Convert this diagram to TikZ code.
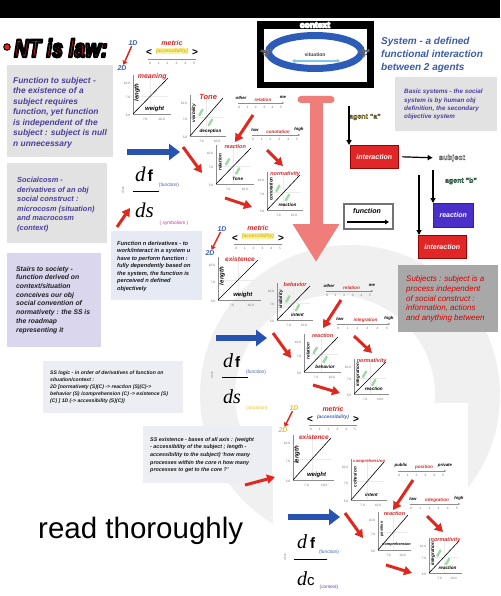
\documentclass[tikz,border=0pt]{standalone}
\usepackage{fontspec}
\usepackage{graphicx}
\setmainfont{Liberation Sans}
\newfontfamily\serifit{Liberation Serif}
\usetikzlibrary{arrows.meta,shapes.geometric}
\definecolor{purp}{HTML}{4B3F9E}
\definecolor{tred}{HTML}{D42A2A}
\definecolor{ared}{HTML}{E0281E}
\definecolor{ablue}{HTML}{2752B0}
\definecolor{sysblue}{HTML}{3D5CA3}
\definecolor{boxgrey}{HTML}{E2E2E2}
\definecolor{lav}{HTML}{DAD6EE}
\definecolor{lblue}{HTML}{E5EAF5}
\definecolor{lgrey}{HTML}{ECEEF3}
\definecolor{subjgrey}{HTML}{A8A8A8}
\definecolor{salmon}{HTML}{EF7E7A}
\definecolor{ringblue}{HTML}{2D5BB8}
\definecolor{hly}{HTML}{F7F39A}
\definecolor{accy}{HTML}{D9B520}
\definecolor{dblue}{HTML}{3A62B4}
\definecolor{dyel}{HTML}{E6C62E}
\definecolor{gmk}{HTML}{9ED9A6}
\definecolor{interred}{HTML}{E02626}
\definecolor{reactblue}{HTML}{4A30C8}
\definecolor{olivet}{HTML}{D2BC4E}
\definecolor{agbgreen}{HTML}{3FA06A}
\definecolor{symmag}{HTML}{C03A96}
\definecolor{sitblue}{HTML}{7FC8E0}
\definecolor{ctxpurp}{HTML}{6A4AB0}
\definecolor{ntred}{HTML}{E8201E}
\newcommand\fsz[2]{\fontsize{#1}{#2}\selectfont}
% outlined text: #1 stroke width, #2 stroke grey level, #3 fill colour, #4 text
\newcommand\outl[4]{{\color{#3}\special{pdf:literal direct 2 Tr #1 w #2 G 1 j}#4\special{pdf:literal direct 0 Tr}}}
\tikzset{
 tk/.style={font=\fsz{3.2}{3.5}, text=black!55, inner sep=0},
 ctitle/.style={font=\fsz{5.5}{6}\bfseries\itshape, text=tred, inner sep=0},
 clab/.style={font=\fsz{4.6}{5}\bfseries\itshape, inner sep=0},
 slab/.style={font=\fsz{4.3}{5}\bfseries\itshape, inner sep=0},
 caxis/.style={draw=black!45, line width=0.4pt},
 cgrid/.style={draw=black!8, line width=0.3pt},
 cdiag/.style={draw=black, line width=0.6pt},
 gmark/.style={fill=gmk, rounded corners=0.8pt, minimum width=8pt, minimum height=2.4pt, inner sep=0},
 bigchart/.style={clab/.append style={font=\fsz{6}{6}\bfseries\itshape}, ctitle/.append style={font=\fsz{6.5}{7}\bfseries\itshape}},
 redarr/.style={draw=ared, line width=3pt, -{Triangle[length=8pt,width=9pt]}},
 smallred/.style={draw=ared, line width=1.5pt, -{Triangle[length=4pt,width=5pt]}},
 bluearr/.style={draw=ablue, line width=6pt, -{Triangle[length=11pt,width=16pt]}},
 blk/.style={draw=black, line width=1.2pt, -{Triangle[length=5pt,width=5pt]}},
 gbox/.style={anchor=north west, inner sep=0},
 btext/.style={anchor=north west, inner sep=0, align=left},
 dimlab/.style={font=\fsz{7}{7}\bfseries\itshape, inner sep=0.5pt},
 flowbox/.style={font=\fsz{7}{7}\bfseries\itshape, text=white, minimum width=48pt, minimum height=23pt, inner sep=0},
 dnum/.style={anchor=base west, inner sep=0},
 fnote/.style={font=\fsz{4.8}{5}, inner sep=0},
 tinyrot/.style={font=\fsz{3}{3.2}, text=black!50, rotate=90, inner sep=0},
 pics/chart/.style n args={5}{code={
  \draw[cgrid] ({0.5*#1},0) -- ({0.5*#1},-#2) (0,{-0.5*#2}) -- (#1,{-0.5*#2});
  \draw[caxis] (0,{-#2-3}) -- (0,0) -- ({#1+3},0);
  \draw[cdiag] (0,0) -- (#1,-#2);
  \node[tk] at (-6,{-#2+5}) {10.0};
  \node[tk] at (-5,{-0.45*#2}) {7.0};
  \node[tk] at (-5,1) {5.0};
  \node[tk] at ({0.35*#1},5) {7.0};
  \node[tk] at ({0.82*#1},5) {10.0};
  \node[ctitle] at ({0.55*#1},{-#2-1}) {#3};
  \node[clab, rotate=90] at (4,{-0.6*#2}) {#4};
  \node[clab] at ({0.62*#1},-5) {#5};
 }},
 pics/greens/.style n args={2}{code={
  \node[gmark, rotate=60] at ({0.33*#1},{-0.62*#2}) {};
  \node[gmark, rotate=60] at ({0.62*#1},{-0.36*#2}) {};
 }},
 pics/scl/.style n args={4}{code={
  \draw[caxis, -{Stealth[length=2pt,width=2pt]}] (0,0) -- (#1,0);
  \foreach \k in {0,...,5}{
    \draw[caxis] ({1+\k*(#1-4)/5},0) -- ({1+\k*(#1-4)/5},1.2);
    \node[tk] at ({1+\k*(#1-4)/5},4.5) {\k};}
  \node[slab] at (3,-5.5) {#2};
  \node[ctitle, font=\fsz{4.6}{5}\bfseries\itshape] at ({#1/2+2},-3.5) {#3};
  \node[slab] at ({#1-1},-5.5) {#4};
 }},
 pics/metric/.style={code={
  \node[font=\fsz{7}{8}\bfseries\itshape, text=tred, inner sep=0] at (0,0) {metric};
  \node[font=\fsz{4.8}{5}\bfseries\itshape, inner sep=0.6pt, #1] at (0,8) {(accessibility)};
  \node[font=\fsz{10}{10}\bfseries, inner sep=0] at (-23,10) {<};
  \node[font=\fsz{10}{10}\bfseries, inner sep=0] at (23,10) {>};
  \draw[caxis] (-24,16) -- (24,16);
  \foreach \k in {0,...,5} \node[tk] at ({-22+\k*8.8},20) {\k};
 }}
}
\begin{document}
\begin{tikzpicture}[x=1pt,y=-1pt]
\useasboundingbox (0,0) rectangle (500,596);
\fill[white] (0,0) rectangle (500,596);
% faint watermark ring
\fill[black!6, even odd rule] (350,395) circle (150) (335,395) circle (100);
\fill[white] (273,403) rectangle (468,596);
% top band
\fill[black] (0,0) rectangle (500,18);

% ---- title
\node (bul) [circle, fill=ntred, draw=black, line width=1pt, minimum size=6.5pt, inner sep=0] at (7,47) {};
\node (nt) [anchor=west, font=\fsz{25}{25}\bfseries\itshape, inner sep=0] at (14,48) {\scalebox{0.8}[1]{\outl{2.4}{0}{ntred}{NT is law:}}};

% ---- left text boxes
\node (b1) [gbox, fill=boxgrey, minimum width=106pt, minimum height=92pt] at (7,65) {};
\node (b1t) [btext, text=purp, font=\fsz{8.4}{10.5}\bfseries\itshape] at (13,77) {Function to subject -\\the existence of a\\subject requires\\function, yet function\\is independent of the\\subject : subject is null\\n unnecessary};
\node (b2) [gbox, fill=boxgrey, minimum width=100pt, minimum height=80pt] at (7,163) {};
\node (b2t) [btext, text=purp, font=\fsz{7.4}{9.6}\bfseries\itshape] at (17,177) {Socialcosm -\\derivatives of an obj\\social construct :\\microcosm (situation)\\and macrocosm\\(context)};
\node (b3) [gbox, fill=lav, minimum width=94pt, minimum height=94pt] at (7,253) {};
\node (b3t) [btext, text=black!88, font=\fsz{6.8}{8.7}\bfseries\itshape] at (16,266) {Stairs to society -\\function derived on\\context/situation\\conceives our obj\\social convention of\\normativety : the SS is\\the roadmap\\representing it};
\node (b4) [gbox, fill=lblue, minimum width=91pt, minimum height=69pt] at (111,231) {};
\node (b4t) [btext, text=black!90, font=\fsz{5.7}{7.5}\bfseries\itshape] at (117,241) {Function n derivatives - to\\work/interact in a system u\\have to perform function :\\fully dependently based on\\the system, the function is\\perceived n defined\\objectively};
\node (b5) [gbox, fill=lgrey, minimum width=140pt, minimum height=52pt] at (43,361) {};
\node (b5t) [btext, text=black!90, font=\fsz{5.1}{7}\bfseries\itshape] at (50,371) {SS logic - in order of derivatives of function on\\situation/context :\\2D [normativety (S)(C) -> reaction (S)(C)->\\behavior (S) /comprehension (C) -> existence (S)\\(C) ] 1D (-> accessibility (S)(C))};
\node (b6) [gbox, fill=lgrey, minimum width=129pt, minimum height=57pt] at (143,426) {};
\node (b6t) [btext, text=black!90, font=\fsz{5.4}{7.7}\bfseries\itshape] at (150,437) {SS existence - bases of all axis : (weight\\- accessibility of the subject ; length -\\accessibility to the subject) `how many\\processes within the core n how many\\processes to get to the core ?'};
\node (rt) [anchor=base west, inner sep=0, font=\fsz{29.5}{30}] at (38,538) {read thoroughly};

% ---- context figure
\node (ctx) [gbox, fill=black, minimum width=117pt, minimum height=67pt] at (257,21) {};
\node (ctxin) [gbox, fill=white, minimum width=103pt, minimum height=53pt] at (264,29) {};
\node (ring) [ellipse, draw=ringblue, line width=7pt, minimum width=93pt, minimum height=33pt, inner sep=0] at (315,52) {};
\node (ctxl) [font=\fsz{8.5}{9}\bfseries, inner sep=0] at (315,25) {\outl{1.1}{1}{black}{context}};
\node (ag1) [font=\fsz{4}{4.5}\bfseries, align=center, inner sep=0] at (266,53) {\outl{0.3}{0.35}{white}{agent}\\\outl{0.3}{0.35}{white}{"a"}};
\node (ag2) [font=\fsz{4}{4.5}\bfseries, align=center, inner sep=0] at (364,53) {\outl{0.3}{0.35}{white}{agent}\\\outl{0.3}{0.35}{white}{"b"}};
\node (sit) [font=\fsz{5}{5}\bfseries, text=black!75, inner sep=0] at (315,55) {situation};
\coordinate (s0) at (292,61); \coordinate (s1) at (340,61);
\draw[draw=sitblue, line width=1.2pt, {Triangle[length=3pt,width=4pt]}-{Triangle[length=3pt,width=4pt]}] (s0) -- (s1);

\node (sys) [btext, text=sysblue, font=\fsz{10}{13}\bfseries\itshape] at (381,37) {System - a defined\\functional interaction\\between 2 agents};
\node (b7) [gbox, fill=boxgrey, minimum width=102pt, minimum height=54pt] at (395,77) {};
\node (b7t) [btext, text=purp, font=\fsz{6.3}{8.3}\bfseries\itshape] at (404,89) {Basic systems - the social\\system is by human obj\\definition, the secondary\\objective system};

% ---- big T arrow
\node (tbar) [fill=salmon, rounded corners=3.5pt, minimum width=37pt, minimum height=7pt, inner sep=0] at (316,99.5) {};
\coordinate (ttip) at (316,262);
\draw[draw=salmon, line width=13pt, -{Triangle[length=38pt,width=44pt]}] (tbar.center) -- (ttip);

% ---- right flow
\node (agenta) [font=\fsz{7}{7}\bfseries, inner sep=0] at (365,117) {\outl{0.2}{0.2}{olivet}{agent "a"}};
\node (inter1) [flowbox, fill=interred, draw=red!60!black, anchor=north west] at (350,145) {interaction};
\coordinate (a0) at (349,106);
\draw[blk] (a0) -- (a0 |- inter1.north);
\node (subj) [font=\fsz{7.5}{8}\bfseries, inner sep=0] at (452,158) {\outl{0.45}{0.4}{white}{subject}};
\draw[blk, shorten <=4pt, shorten >=6pt] (inter1.east) -- (subj.west);
\node (agentb) [font=\fsz{7}{7}\bfseries, inner sep=0] at (461,181) {\outl{0.2}{0.2}{agbgreen}{agent "b"}};
\node (react) [flowbox, fill=reactblue, draw=reactblue!70!black, minimum width=40pt, minimum height=24pt, anchor=north west] at (433,203) {reaction};
\node (inter2) [flowbox, fill=interred, draw=red!60!black, anchor=north west] at (418,235) {interaction};
\coordinate (b0) at (433,170);
\draw[blk] (b0) -- (b0 |- react.north);
\coordinate (c0) at (419,175);
\draw[blk] (c0) -- (c0 |- inter2.north);
\node (func) [gbox, draw=black!55, line width=1.6pt, minimum width=49pt, minimum height=25pt] at (343,203) {};
\node (funct) [font=\fsz{7}{7}\itshape\bfseries, inner sep=0] at (367,211) {function};
\coordinate (f0) at (347,222); \coordinate (f1) at (389,222);
\draw[draw=black, line width=1.6pt, -{Triangle[length=4pt,width=4.5pt]}] (f0) -- (f1);

\node (b8) [gbox, fill=subjgrey, minimum width=100pt, minimum height=67pt] at (398,265) {};
\node (b8t) [btext, text=red!85!black, font=\fsz{8}{9.6}\itshape] at (406,276) {Subjects : subject is a\\process independent\\of social construct :\\information, actions\\and anything between};

% =============== cluster 1
\node (c1a) [dimlab, text=dblue] at (133,43) {1D};
\node (c1b) [dimlab, text=dblue] at (122,68) {2D};
\draw[smallred] (c1a) -- (c1b);
\pic (c1met) at (172,43) {metric={fill=hly,text=accy}};
\pic[bigchart, ctitle/.append style={font=\fsz{7}{7}\bfseries\itshape}] (c1m) at (133,114) {chart={35}{36}{meaning}{length}{weight}};
\pic[ctitle/.append style={font=\fsz{7.5}{8}\bfseries\itshape}] (c1t) at (190,136) {chart={33}{38}{Tone}{visibility}{deception}};
\pic at (190,136) {greens={33}{38}};
\pic (c1rs) at (238,103) {scl={46}{other}{relation}{me}};
\pic (c1cs) at (252,135) {scl={48}{low}{conotation}{high}};
\pic (c1r) at (216,184) {chart={35}{36}{reaction}{relation}{Tone}};
\pic at (216,184) {greens={35}{36}};
\pic (c1n) at (267,210) {chart={33}{35}{normativity}{conotation}{reaction}};
\pic at (267,210) {greens={33}{35}};
\coordinate (r1s) at (253,115); \coordinate (r1e) at (235,142);
\coordinate (r2s) at (183,147); \coordinate (r2e) at (202,173);
\coordinate (r3s) at (267,150); \coordinate (r3e) at (283,166);
\coordinate (r4s) at (225,198); \coordinate (r4e) at (252,207);
\coordinate (r5s) at (117,227); \coordinate (r5e) at (130,208);
\coordinate (bl1s) at (127,152); \coordinate (bl1e) at (180,152);
\draw[redarr] (r1s) -- (r1e);
\draw[redarr] (r2s) -- (r2e);
\draw[redarr] (r3s) -- (r3e);
\draw[redarr] (r4s) -- (r4e);
\draw[redarr] (r5s) -- (r5e);
\draw[bluearr] (bl1s) -- (bl1e);
\node (d1n) [dnum] at (135,182) {{\serifit\itshape\fsz{21}{21}d}\kern2pt{\bfseries\fsz{16}{16}f}};
\node (d1d) [dnum] at (135,217) {{\serifit\itshape\fsz{21}{21}ds}};
\draw[line width=1pt] (133,191) -- (159,191);
\node (d1f) [fnote, text=dblue] at (169,185) {(function)};
\node (d1s) [fnote, text=symmag] at (174,223) {( symbolism )};
\node (d1x) [tinyrot] at (123,190) {df/ds};

% =============== cluster 2
\node (c2a) [dimlab, text=dblue] at (222,229) {1D};
\node (c2b) [dimlab, text=dblue] at (210,253) {2D};
\draw[smallred] (c2a) -- (c2b);
\pic (c2met) at (258,228) {metric={fill=hly,text=accy}};
\pic[bigchart] (c2e) at (218,300) {chart={40}{40}{existence}{length}{weight}};
\pic (c2bh) at (277,320) {chart={33}{34}{behavior}{visibility}{intent}};
\pic at (277,320) {greens={33}{34}};
\pic (c2rs) at (326,291) {scl={47}{other}{relation}{me}};
\pic (c2is) at (337,324) {scl={53}{low}{integration}{high}};
\pic (c2r) at (304,372) {chart={34}{35}{reaction}{relation}{behavior}};
\pic at (304,372) {greens={34}{35}};
\pic (c2n) at (354,394) {chart={32}{32}{normativity}{integration}{reaction}};
\pic at (354,394) {greens={32}{32}};
\coordinate (r6s) at (341,300); \coordinate (r6e) at (323,328);
\coordinate (r7s) at (273,333); \coordinate (r7e) at (291,358);
\coordinate (r8s) at (354,336); \coordinate (r8e) at (372,353);
\coordinate (r9s) at (313,385); \coordinate (r9e) at (340,393);
\coordinate (bl2s) at (216,338); \coordinate (bl2e) at (267,338);
\draw[redarr] (r6s) -- (r6e);
\draw[redarr] (r7s) -- (r7e);
\draw[redarr] (r8s) -- (r8e);
\draw[redarr] (r9s) -- (r9e);
\draw[bluearr] (bl2s) -- (bl2e);
\node (d2n) [dnum] at (223,367) {{\serifit\itshape\fsz{20}{20}d}\kern2pt{\bfseries\fsz{15}{15}f}};
\node (d2d) [dnum] at (223,403) {{\serifit\itshape\fsz{20}{20}ds}};
\draw[line width=1pt] (222,377) -- (248,377);
\node (d2f) [fnote, text=dblue] at (256,372) {(function)};
\node (d2s) [fnote, text=dyel] at (257,408) {(situation)};
\node (d2x) [tinyrot] at (212,375) {df/ds};

% =============== cluster 3
\node (c3a) [dimlab, text=dyel] at (294,408) {1D};
\node (c3b) [dimlab, text=dyel] at (283,430) {2D};
\draw[smallred] (c3a) -- (c3b);
\pic (c3met) at (333,409) {metric={text=dblue}};
\pic[bigchart] (c3e) at (293,480) {chart={38}{42}{existence}{length}{weight}};
\pic[ctitle/.append style={font=\fsz{4.3}{5}\bfseries\itshape}] (c3c) at (351,500) {chart={33}{38}{comprehension}{cohesion}{intent}};
\pic (c3ps) at (398,471) {scl={48}{public}{position}{private}};
\pic (c3is) at (410,504) {scl={50}{low}{integration}{high}};
\pic[clab/.append style={font=\fsz{3.8}{4}\bfseries\itshape}] (c3r) at (378,550) {chart={30}{35}{reaction}{position}{comprehension}};
\pic (c3n) at (429,573) {chart={30}{32}{normativity}{integration}{reaction}};
\pic at (429,573) {greens={30}{32}};
\coordinate (r10s) at (245,485); \coordinate (r10e) at (275,477);
\coordinate (r11s) at (413,480); \coordinate (r11e) at (393,510);
\coordinate (r12s) at (345,513); \coordinate (r12e) at (363,538);
\coordinate (r13s) at (427,516); \coordinate (r13e) at (443,532);
\coordinate (r14s) at (386,565); \coordinate (r14e) at (412,573);
\coordinate (bl3s) at (288,517); \coordinate (bl3e) at (340,517);
\draw[redarr] (r10s) -- (r10e);
\draw[redarr] (r11s) -- (r11e);
\draw[redarr] (r12s) -- (r12e);
\draw[redarr] (r13s) -- (r13e);
\draw[redarr] (r14s) -- (r14e);
\draw[bluearr] (bl3s) -- (bl3e);
\node (d3n) [dnum] at (297,548) {{\serifit\itshape\fsz{20}{20}d}\kern3pt{\bfseries\fsz{15}{15}f}};
\node (d3d) [dnum] at (297,585) {{\serifit\itshape\fsz{20}{20}d}{\fsz{15}{15}c}};
\draw[line width=1pt] (294,559) -- (327,559);
\node (d3f) [fnote, text=dblue] at (329,552) {(function)};
\node (d3s) [fnote, text=ctxpurp] at (329,587) {(context)};
\node (d3x) [tinyrot] at (285,557) {df/dc};
\end{tikzpicture}
\end{document}
